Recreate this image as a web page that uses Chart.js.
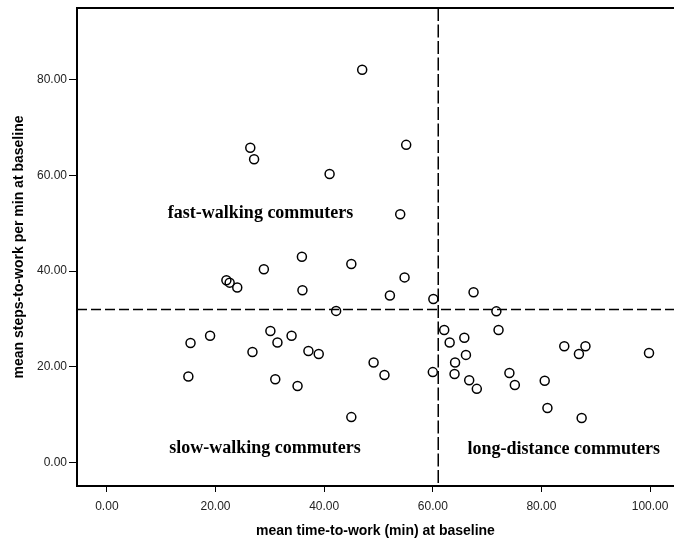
<!DOCTYPE html>
<html><head><meta charset="utf-8">
<script src="https://cdn.jsdelivr.net/npm/chart.js@4/dist/chart.umd.min.js"></script>
<style>html,body{margin:0;padding:0;background:#fff}#wrap{width:674px;height:544px}</style>
</head><body><div id="wrap"><canvas id="c" width="674" height="544"></canvas></div>
<script>
const timeToWork = [26.4,27.1,41.0,35.9,28.9,22.0,47.0,55.1,54.0,45.0,54.8,22.6,24.0,36.0,42.2,15.4,19.0,26.8,30.1,31.4,34.0,37.1,39.0,15.0,31.0,35.1,52.1,60.1,67.5,71.7,62.1,72.1,63.1,65.8,66.1,64.1,49.1,51.1,60.0,64.0,66.7,68.1,74.1,75.1,84.2,86.9,88.1,99.8,80.6,81.1,87.4,45.0];
const stepsPerMin = [65.8,63.4,60.3,43.0,40.4,38.1,82.1,66.4,51.9,41.5,38.7,37.6,36.6,36.0,31.7,25.0,26.5,23.1,27.5,25.1,26.5,23.3,22.7,18.0,17.4,16.0,34.9,34.2,35.6,31.6,27.7,27.7,25.1,26.1,22.5,20.9,20.9,18.3,18.9,18.5,17.2,15.4,18.7,16.2,24.3,22.7,24.3,22.9,17.1,11.4,9.3,9.5];
const xTicks = [0,20,40,60,80,100];
const yTicks = [0,20,40,60,80];
const cutTime = 61.0;
const cutSteps = 32.0;
const regionLabels = ['fast-walking commuters','slow-walking commuters','long-distance commuters'];
const regionLabelX = [28.3,29.1,84.1];
const regionLabelY = [52.1,2.9,2.8];

const pts = timeToWork.map((x,i)=>({x:x,y:stepsPerMin[i]}));

const overlay = {
  id:'overlay',
  afterDatasetsDraw(chart){
    const {ctx, chartArea:a, scales:{x,y}} = chart;
    ctx.save();
    ctx.strokeStyle='#000'; ctx.lineWidth=2; ctx.setLineDash([]);
    ctx.beginPath(); ctx.moveTo(a.left-1, a.top); ctx.lineTo(a.right, a.top); ctx.stroke();
    ctx.lineWidth=1.5;
    const vx = x.getPixelForValue(cutTime);
    ctx.setLineDash([13,3.5]);
    ctx.beginPath(); ctx.moveTo(vx, a.top); ctx.lineTo(vx, a.bottom); ctx.stroke();
    const hy = y.getPixelForValue(cutSteps);
    ctx.setLineDash([10,4]);
    ctx.beginPath(); ctx.moveTo(a.left, hy); ctx.lineTo(a.right, hy); ctx.stroke();
    ctx.setLineDash([]);
    ctx.fillStyle='#000';
    ctx.font='bold 18px "Liberation Serif", "Times New Roman", serif';
    ctx.textAlign='center'; ctx.textBaseline='middle';
    regionLabels.forEach((t,i)=>{
      ctx.fillText(t, x.getPixelForValue(regionLabelX[i]), y.getPixelForValue(regionLabelY[i]));
    });
    ctx.restore();
  }
};

new Chart(document.getElementById('c'), {
  type:'scatter',
  data:{datasets:[{data:pts, pointRadius:4.5, pointHoverRadius:4.5, borderColor:'#000', backgroundColor:'rgba(0,0,0,0)', pointBorderWidth:1.5, clip:false}]},
  options:{
    responsive:false, animation:false, devicePixelRatio:1,
    layout:{autoPadding:false, padding:{top:8,right:0,left:0,bottom:0}},
    plugins:{legend:{display:false}, tooltip:{enabled:false}},
    scales:{
      x:{type:'linear', min:-5.5, max:104.4,
        afterBuildTicks(s){s.ticks = xTicks.map(v=>({value:v}));},
        afterFit(s){s.height=58; s.paddingLeft=0; s.paddingRight=0;},
        border:{display:true,color:'#000',width:2},
        grid:{display:true,drawOnChartArea:false,drawTicks:true,tickLength:6,color:'#000',lineWidth:1},
        ticks:{color:'#222',font:{family:'"Liberation Sans", Arial, sans-serif',size:12},padding:7,callback:v=>v.toFixed(2),maxRotation:0},
        title:{display:true,text:'mean time-to-work (min) at baseline',color:'#000',font:{family:'"Liberation Sans", Arial, sans-serif',size:14,weight:'bold'},padding:{top:10,bottom:4}}
      },
      y:{type:'linear', min:-4.9, max:95.0,
        afterBuildTicks(s){s.ticks = yTicks.map(v=>({value:v}));},
        afterFit(s){s.width=77; s.paddingTop=0; s.paddingBottom=0;},
        border:{display:true,color:'#000',width:2},
        grid:{display:true,drawOnChartArea:false,drawTicks:true,tickLength:8,color:'#000',lineWidth:1},
        ticks:{color:'#222',font:{family:'"Liberation Sans", Arial, sans-serif',size:12},padding:2,callback:v=>v.toFixed(2)},
        title:{display:true,text:'mean steps-to-work per min at baseline',color:'#000',font:{family:'"Liberation Sans", Arial, sans-serif',size:14,weight:'bold'},padding:{top:11,bottom:0}}
      }
    }
  },
  plugins:[overlay]
});
</script></body></html>
